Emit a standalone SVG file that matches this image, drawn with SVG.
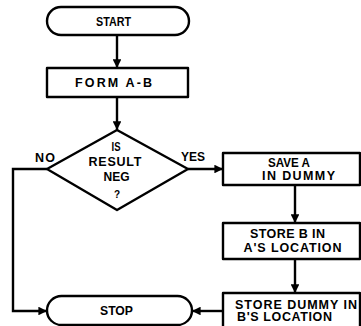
<svg xmlns="http://www.w3.org/2000/svg" width="361" height="326" viewBox="0 0 361 326">
<style>
.s{fill:#fff;stroke:#000;stroke-width:2.4;stroke-linejoin:round}
.c{fill:none;stroke:#000;stroke-width:2.4}
text{font-family:"Liberation Sans",Arial,sans-serif;font-weight:bold;font-size:12.5px;fill:#000}
</style>
<defs>
<marker id="ah" viewBox="0 0 10 10" refX="10" refY="5" markerWidth="4.2" markerHeight="3.6" orient="auto" markerUnits="strokeWidth">
<path d="M0,0 L10,5 L0,10 Z" fill="#000"/>
</marker>
</defs>
<rect width="361" height="326" fill="#fff"/>
<g id="connectors">
<path class="c" d="M117,35 V68" marker-end="url(#ah)"/>
<path class="c" d="M117,97 V130" marker-end="url(#ah)"/>
<path class="c" d="M188,169 H223" marker-end="url(#ah)"/>
<path class="c" d="M295,185 V223" marker-end="url(#ah)"/>
<path class="c" d="M295,259 V293" marker-end="url(#ah)"/>
<path class="c" d="M223,311 H192" marker-end="url(#ah)"/>
<path class="c" d="M47,169 H13 V311 H47" marker-end="url(#ah)"/>
<text x="35" y="161.5" textLength="20" lengthAdjust="spacing">NO</text>
<text x="181" y="161" textLength="24" lengthAdjust="spacingAndGlyphs">YES</text>
</g>
<g id="start">
<rect class="s" x="47" y="7" width="142" height="28" rx="14"/>
<text x="96" y="26" textLength="35" lengthAdjust="spacingAndGlyphs">START</text>
</g>
<g id="form">
<rect class="s" x="47" y="68" width="141" height="29"/>
<text x="75" y="86.5" textLength="77" lengthAdjust="spacing">FORM A-B</text>
</g>
<g id="decision">
<path class="s" d="M117,130 L188,169 L117,210 L47,169 Z"/>
<text x="111.5" y="151" textLength="9" lengthAdjust="spacingAndGlyphs">IS</text>
<text x="88.5" y="166" textLength="53" lengthAdjust="spacing">RESULT</text>
<text x="103.5" y="181" textLength="26" lengthAdjust="spacingAndGlyphs">NEG</text>
<text x="117" y="197.5" text-anchor="middle" style="font-size:10px">?</text>
</g>
<g id="save">
<rect class="s" x="223" y="153" width="137" height="32"/>
<text x="268" y="166.5" textLength="42" lengthAdjust="spacingAndGlyphs">SAVE A</text>
<text x="262" y="179.5" textLength="73" lengthAdjust="spacing">IN DUMMY</text>
</g>
<g id="storeb">
<rect class="s" x="223" y="223" width="137" height="36"/>
<text x="250" y="237.5" textLength="75" lengthAdjust="spacing">STORE B IN</text>
<text x="243.5" y="251.5" textLength="98" lengthAdjust="spacing">A'S LOCATION</text>
</g>
<g id="storedummy">
<rect class="s" x="223" y="293" width="137" height="40"/>
<text x="235" y="308.5" textLength="122" lengthAdjust="spacing">STORE DUMMY IN</text>
<text x="237" y="321" textLength="95" lengthAdjust="spacing">B'S LOCATION</text>
</g>
<g id="stop">
<rect class="s" x="47" y="296" width="145" height="29" rx="14.5"/>
<text x="100" y="315" textLength="33" lengthAdjust="spacingAndGlyphs">STOP</text>
</g>
</svg>
